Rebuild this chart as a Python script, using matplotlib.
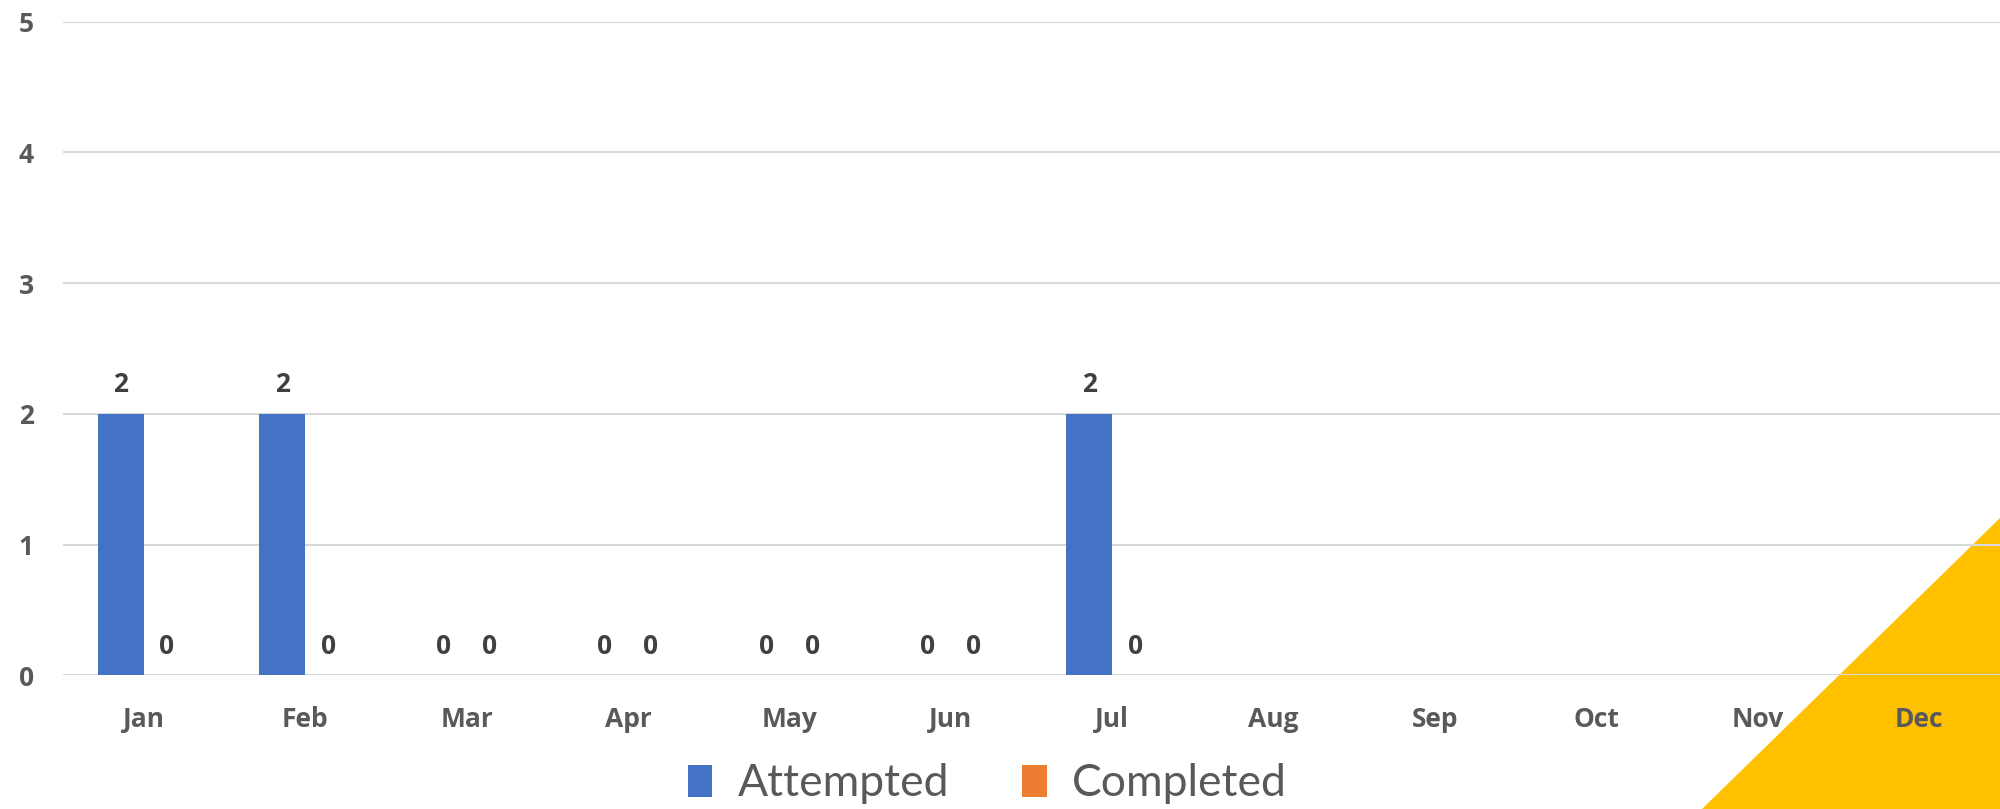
import matplotlib
matplotlib.use("Agg")
import matplotlib.pyplot as plt
from matplotlib.patches import Polygon, Patch
import numpy as np

months = ["Jan", "Feb", "Mar", "Apr", "May", "Jun", "Jul", "Aug", "Sep", "Oct", "Nov", "Dec"]
attempted = [2, 2, 0, 0, 0, 0, 2, None, None, None, None, None]
completed = [0, 0, 0, 0, 0, 0, 0, None, None, None, None, None]
yticks = [0, 1, 2, 3, 4, 5]

BLUE = "#4472C4"
ORANGE = "#ED7D31"
GOLD = "#FFC000"
TICK_C = "#595959"
LABEL_C = "#404040"
FONT = ["Lato", "DejaVu Sans"]
BOLD_FONT = ["Open Sans", "DejaVu Sans"]

plt.rcParams["font.family"] = FONT

W, H = 2000, 809
fig = plt.figure(figsize=(W / 100, H / 100), dpi=100)

# decorative yellow triangle in bottom-right corner (behind axes)
tri = Polygon([(1702 / W, 0), (1.0, 0), (1.0, (H - 518) / H)], closed=True,
              transform=fig.transFigure, facecolor=GOLD, edgecolor="none", zorder=0)
fig.patches.append(tri)

ax = fig.add_axes([63 / W, 133.7 / H, (W - 63) / W, (787.2 - 133.7) / H])
ax.set_facecolor("none")
ax.set_zorder(1)

x = np.arange(len(months))
bw = 0.285
att = np.array([np.nan if v is None else v for v in attempted], dtype=float)
com = np.array([np.nan if v is None else v for v in completed], dtype=float)
ax.bar(x - bw / 2, att, width=bw, color=BLUE, zorder=3)
ax.bar(x + bw / 2, com, width=bw, color=ORANGE, zorder=3)

for xi, v in zip(x, attempted):
    if v is not None:
        ax.annotate(str(v), (xi - bw / 2, v), xytext=(0, 21), textcoords="offset points",
                    ha="center", va="center", fontsize=19, fontweight="bold",
                    family=BOLD_FONT, color=LABEL_C)
for xi, v in zip(x, completed):
    if v is not None:
        ax.annotate(str(v), (xi + bw / 2, v), xytext=(0, 21), textcoords="offset points",
                    ha="center", va="center", fontsize=19, fontweight="bold",
                    family=BOLD_FONT, color=LABEL_C)

ax.set_xlim(-0.5, len(months) - 0.5)
ax.set_ylim(0, 5)
ax.set_yticks(yticks)
ax.set_xticks(x)
ax.set_xticklabels(months)
ax.yaxis.grid(True, color="#D9D9D9", linewidth=1.5, zorder=0)
ax.set_axisbelow(True)
for s in ax.spines.values():
    s.set_visible(False)
ax.tick_params(axis="both", length=0, labelcolor=TICK_C, labelsize=19)
ax.tick_params(axis="y", pad=21)
ax.tick_params(axis="x", pad=22)
for lab in ax.get_xticklabels() + ax.get_yticklabels():
    lab.set_fontweight("bold")
    lab.set_family(BOLD_FONT)

handles = [Patch(facecolor=BLUE, label="Attempted"), Patch(facecolor=ORANGE, label="Completed")]
fig.legend(handles=handles, loc="center", bbox_to_anchor=(987 / W, 1 - 784 / H), ncol=2,
           frameon=False, fontsize=32, labelcolor=TICK_C, handlelength=0.56, handleheight=0.70,
           handletextpad=0.56, columnspacing=1.64)

fig.savefig("out.png", dpi=100)
